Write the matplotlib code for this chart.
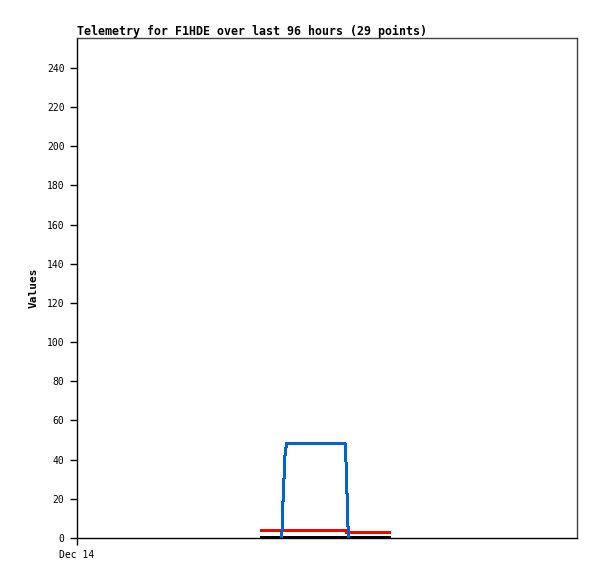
import matplotlib
matplotlib.use("Agg")
import matplotlib.pyplot as plt

# hours since Dec 14 00:00
blue_t = [39.30, 39.42, 39.55, 39.74, 39.94, 40.22, 51.46, 51.61, 51.74, 51.90, 52.03, 52.17]
blue_v = [0, 6.1, 18.4, 30.1, 42.4, 48.3, 48.3, 42.4, 30.1, 18.4, 6.1, 0]

red_t = [35.14, 51.70, 51.78, 60.23]
red_v = [3.7, 3.7, 2.8, 2.8]

black_t = [35.14, 60.23]
black_v = [0.3, 0.3]

yticks = [0, 20, 40, 60, 80, 100, 120, 140, 160, 180, 200, 220, 240]
xtick_labels = ["Dec 14"]

plt.rcParams['font.family'] = ['DejaVu Sans Mono']

fig = plt.figure(figsize=(5.97, 5.79), dpi=100)
ax = fig.add_axes([77/597, 1 - 538/579, 500/597, 500/579])

ax.plot(black_t, black_v, color='black', lw=1.44, solid_capstyle='butt', antialiased=False)
ax.plot(red_t, red_v, color='#ff0000', lw=1.44, solid_capstyle='butt', antialiased=False)
ax.plot(blue_t, blue_v, color='#0066cc', lw=1.44, solid_capstyle='butt', antialiased=False)

ax.set_xlim(0, 96)
ax.set_ylim(0, 255.3)
ax.set_yticks(yticks)
ax.set_yticklabels([str(v) for v in yticks], fontsize=7)
ax.set_xticks([0])
ax.set_xticklabels(xtick_labels, fontsize=7)
ax.tick_params(axis='y', length=5, width=1, pad=4)
ax.tick_params(axis='x', length=5, width=1, pad=4)

ax.spines['left'].set_color('black')
ax.spines['bottom'].set_color('black')
ax.spines['top'].set_color('#444444')
ax.spines['right'].set_color('#444444')
for s in ax.spines.values():
    s.set_linewidth(1)

ax.set_ylabel('Values', fontsize=8, fontweight='bold', labelpad=6)
ax.set_title('Telemetry for F1HDE over last 96 hours (29 points)', loc='left',
             fontsize=8.4, fontweight='bold', pad=2)

fig.savefig('out.png', dpi=100)
